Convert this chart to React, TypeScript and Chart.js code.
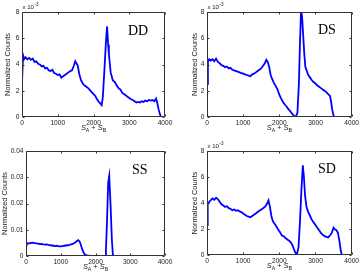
import { useEffect, useRef } from 'react';
import { Chart, registerables } from 'chart.js';

Chart.register(...registerables);

// ---------- data ----------
const X_TICKS = [0, 1000, 2000, 3000, 4000];
const X_TICK_LABELS = ['0', '1000', '2000', '3000', '4000'];
const Y_TICKS_E3 = [0, 2, 4, 6, 8];
const Y_TICK_LABELS_E3 = ['0', '2', '4', '6', '8'];
const Y_TICKS_SS = [0, 0.01, 0.02, 0.03, 0.04];
const Y_TICK_LABELS_SS = ['0', '0.01', '0.02', '0.03', '0.04'];

// DD (values in units of 1e-3)
const ddX = [0, 30, 60, 100, 150, 200, 250, 300, 350, 400, 450, 500, 550, 600, 650, 700, 750, 800, 850, 900, 950, 1000, 1050, 1100, 1150, 1200, 1250, 1300, 1350, 1400, 1450, 1490, 1520, 1560, 1600, 1650, 1700, 1750, 1800, 1850, 1900, 1950, 2000, 2050, 2100, 2150, 2200, 2230, 2260, 2310, 2350, 2380, 2410, 2430, 2480, 2540, 2600, 2650, 2700, 2750, 2800, 2850, 2900, 2950, 3000, 3050, 3100, 3150, 3200, 3250, 3300, 3350, 3400, 3450, 3500, 3550, 3600, 3650, 3700, 3750, 3780, 3820, 3860, 3890];
const ddY = [2.6, 4.7, 4.4, 4.55, 4.4, 4.5, 4.35, 4.45, 4.2, 4.25, 4.05, 4.0, 3.85, 3.9, 3.7, 3.75, 3.55, 3.5, 3.6, 3.35, 3.3, 3.2, 3.25, 3.0, 3.1, 3.2, 3.3, 3.4, 3.5, 3.55, 3.9, 4.25, 4.1, 3.9, 3.3, 2.8, 2.55, 2.4, 2.3, 2.2, 2.05, 1.9, 1.75, 1.6, 1.35, 1.15, 1.0, 0.9, 1.5, 3.8, 5.8, 6.9, 5.5, 4.8, 3.4, 2.8, 2.65, 2.4, 2.2, 2.1, 1.85, 1.75, 1.65, 1.55, 1.45, 1.35, 1.3, 1.2, 1.1, 1.15, 1.1, 1.2, 1.15, 1.25, 1.2, 1.3, 1.25, 1.3, 1.2, 1.4, 1.1, 0.6, 0.2, 0];

// DS (values in units of 1e-3)
const dsX = [0, 25, 60, 100, 150, 200, 250, 300, 350, 400, 450, 500, 550, 600, 650, 700, 750, 800, 850, 900, 950, 1000, 1050, 1100, 1150, 1200, 1250, 1300, 1350, 1400, 1450, 1500, 1550, 1600, 1640, 1680, 1720, 1760, 1800, 1850, 1900, 1950, 2000, 2050, 2100, 2150, 2200, 2250, 2300, 2350, 2400, 2450, 2500, 2540, 2570, 2600, 2630, 2660, 2690, 2720, 2760, 2800, 2850, 2900, 2950, 3000, 3050, 3100, 3150, 3200, 3250, 3300, 3350, 3400, 3430, 3460, 3490, 3515];
const dsY = [2.5, 4.2, 4.4, 4.3, 4.4, 4.25, 4.45, 4.2, 4.1, 3.95, 3.9, 3.8, 3.85, 3.7, 3.75, 3.6, 3.55, 3.5, 3.45, 3.4, 3.35, 3.3, 3.25, 3.2, 3.15, 3.1, 3.25, 3.3, 3.4, 3.5, 3.6, 3.7, 3.9, 4.1, 4.35, 4.2, 3.8, 3.2, 2.9, 2.6, 2.35, 2.1, 1.7, 1.4, 1.15, 0.95, 0.8, 0.6, 0.45, 0.25, 0.1, 0, 0.3, 2.5, 5.5, 8.2, 7.6, 6.2, 4.8, 3.8, 3.5, 3.2, 3.0, 2.8, 2.65, 2.55, 2.4, 2.3, 2.2, 2.1, 2.0, 1.9, 1.75, 1.6, 1.2, 0.6, 0.2, 0];

// SS (actual values)
const ssX = [0, 30, 100, 150, 200, 250, 300, 350, 400, 450, 500, 550, 600, 650, 700, 750, 800, 850, 900, 950, 1000, 1050, 1100, 1150, 1200, 1250, 1300, 1350, 1400, 1450, 1500, 1540, 1580, 1620, 1660, 1700, 1750, 1800, 1850, 1900, 2000, 2100, 2200, 2280, 2300, 2330, 2365, 2395, 2435, 2470, 2500, 2530];
const ssY = [0.003, 0.0049, 0.0048, 0.005, 0.0051, 0.0049, 0.0048, 0.0047, 0.0045, 0.0046, 0.0044, 0.0043, 0.0044, 0.0042, 0.0041, 0.004, 0.0039, 0.0038, 0.0039, 0.0037, 0.0037, 0.0038, 0.0039, 0.004, 0.0041, 0.0042, 0.0044, 0.0046, 0.005, 0.0055, 0.006, 0.0056, 0.0042, 0.0025, 0.0012, 0.0005, 0.0002, 0.0001, 0, 0, 0, 0, 0, 0, 0.002, 0.0128, 0.028, 0.0305, 0.019, 0.0065, 0.0005, 0];

// SD (values in units of 1e-3)
const sdX = [0, 20, 60, 100, 150, 200, 250, 300, 350, 400, 450, 500, 550, 600, 650, 700, 750, 800, 850, 900, 950, 1000, 1050, 1100, 1150, 1200, 1250, 1300, 1350, 1400, 1450, 1500, 1550, 1600, 1650, 1700, 1740, 1780, 1820, 1870, 1920, 1970, 2020, 2070, 2120, 2170, 2220, 2270, 2320, 2370, 2410, 2450, 2490, 2530, 2570, 2610, 2650, 2680, 2710, 2750, 2800, 2850, 2900, 2950, 3000, 3050, 3100, 3150, 3200, 3250, 3300, 3350, 3400, 3450, 3500, 3540, 3580, 3620, 3660, 3700, 3730, 3800, 3900];
const sdY = [2.3, 3.9, 4.1, 4.2, 4.35, 4.25, 4.4, 4.3, 4.1, 3.9, 3.8, 3.7, 3.75, 3.6, 3.55, 3.45, 3.5, 3.4, 3.45, 3.35, 3.3, 3.2, 3.1, 3.0, 2.95, 2.9, 3.0, 3.1, 3.2, 3.3, 3.4, 3.5, 3.6, 3.7, 3.9, 4.2, 3.7, 3.0, 2.6, 2.4, 2.2, 1.95, 1.75, 1.5, 1.45, 1.3, 1.2, 1.1, 0.95, 0.7, 0.4, 0.15, 0.1, 0.6, 2.5, 5.0, 6.9, 6.0, 4.6, 3.7, 3.3, 3.0, 2.7, 2.5, 2.3, 2.1, 1.9, 1.7, 1.55, 1.45, 1.4, 1.35, 1.5, 1.7, 2.1, 1.95, 1.9, 1.7, 1.1, 0.3, 0, 0, 0];

// ---------- layout / style ----------
const SANS = "'Liberation Sans', Arial, sans-serif";
const SERIF = "'Liberation Serif', 'Times New Roman', serif";
const TEXT = '#1a1a1a';
const BOX = '#333333';
const LINE = '#0000ff';

type Panel = {
  label: string;
  xs: number[];
  ys: number[];
  yTicks: number[];
  yTickLabels: string[];
  yMax: number;
  exp: boolean;
  left: number;
  top: number;
  w: number;
  h: number;
  area: { l: number; t: number; r: number; b: number };
  titleX: number;
  labelDX: number;
  labelDY: number;
};

const PANELS: Panel[] = [
  { label: 'DD', xs: ddX, ys: ddY, yTicks: Y_TICKS_E3, yTickLabels: Y_TICK_LABELS_E3, yMax: 8, exp: true,
    left: 0, top: 0, w: 180, h: 138, area: { l: 22, t: 12, r: 165, b: 117 }, titleX: 7.5, labelDX: 106, labelDY: 23 },
  { label: 'DS', xs: dsX, ys: dsY, yTicks: Y_TICKS_E3, yTickLabels: Y_TICK_LABELS_E3, yMax: 8, exp: true,
    left: 180, top: 0, w: 181, h: 138, area: { l: 27, t: 12, r: 172, b: 117 }, titleX: 15, labelDX: 111, labelDY: 22 },
  { label: 'SS', xs: ssX, ys: ssY, yTicks: Y_TICKS_SS, yTickLabels: Y_TICK_LABELS_SS, yMax: 0.04, exp: false,
    left: 0, top: 138, w: 180, h: 139, area: { l: 26, t: 13, r: 165, b: 118 }, titleX: 4.5, labelDX: 106, labelDY: 23 },
  { label: 'SD', xs: sdX, ys: sdY, yTicks: Y_TICKS_E3, yTickLabels: Y_TICK_LABELS_E3, yMax: 8, exp: true,
    left: 180, top: 138, w: 181, h: 139, area: { l: 27, t: 13, r: 172, b: 117 }, titleX: 15, labelDX: 111, labelDY: 22 },
];

const framePlugin = {
  id: 'frame',
  afterDraw(chart: any, _args: any, opts: any) {
    const { ctx, chartArea } = chart;
    const { left, top, right, bottom } = chartArea;
    const xs = chart.scales.x;
    const ys = chart.scales.y;
    ctx.save();
    // box
    ctx.strokeStyle = BOX;
    ctx.lineWidth = 1;
    const L = Math.round(left) + 0.5;
    const T = Math.round(top) + 0.5;
    const R = Math.round(right) - 0.5;
    const B = Math.round(bottom) - 0.5;
    ctx.beginPath();
    ctx.rect(L, T, R - L, B - T);
    // inward ticks
    const tl = 2;
    xs.ticks.forEach((t: any) => {
      const px = Math.round(xs.getPixelForValue(t.value)) + 0.5;
      ctx.moveTo(px, B);
      ctx.lineTo(px, B - tl);
      ctx.moveTo(px, T);
      ctx.lineTo(px, T + tl);
    });
    ys.ticks.forEach((t: any) => {
      const py = Math.round(ys.getPixelForValue(t.value)) + 0.5;
      ctx.moveTo(L, py);
      ctx.lineTo(L + tl, py);
      ctx.moveTo(R, py);
      ctx.lineTo(R - tl, py);
    });
    ctx.stroke();

    ctx.fillStyle = TEXT;
    // exponent
    if (opts.exp) {
      ctx.font = `6px ${SANS}`;
      ctx.textAlign = 'left';
      ctx.textBaseline = 'alphabetic';
      const base = top - 3;
      const x0 = left + 0.5;
      ctx.fillText('x 10', x0, base);
      const w = ctx.measureText('x 10').width;
      ctx.font = `4.6px ${SANS}`;
      ctx.fillText('-3', x0 + w + 0.6, base - 3.5);
    }
    // y title
    ctx.save();
    ctx.font = `7.4px ${SANS}`;
    ctx.translate(opts.titleX, (top + bottom) / 2);
    ctx.rotate(-Math.PI / 2);
    ctx.textAlign = 'center';
    ctx.textBaseline = 'middle';
    ctx.fillText('Normalized Counts', 0, 0);
    ctx.restore();
    // x title with subscripts
    const segs = [
      { t: 'S', f: `italic 7.4px ${SANS}`, dy: 0 },
      { t: 'A', f: `5.2px ${SANS}`, dy: 2 },
      { t: ' + ', f: `7.4px ${SANS}`, dy: 0 },
      { t: 'S', f: `italic 7.4px ${SANS}`, dy: 0 },
      { t: 'B', f: `5.2px ${SANS}`, dy: 2 },
    ];
    let total = 0;
    const widths = segs.map((s) => {
      ctx.font = s.f;
      const w = ctx.measureText(s.t).width;
      total += w;
      return w;
    });
    let cx = (left + right) / 2 - total / 2;
    const by = bottom + 13;
    ctx.textAlign = 'left';
    ctx.textBaseline = 'alphabetic';
    segs.forEach((s, i) => {
      ctx.font = s.f;
      ctx.fillText(s.t, cx, by + s.dy);
      cx += widths[i];
    });
    // panel label
    ctx.font = `14px ${SERIF}`;
    ctx.fillStyle = '#000';
    ctx.fillText(opts.label, left + opts.labelDX, top + opts.labelDY);
    ctx.restore();
  },
};

function PanelChart({ p }: { p: Panel }) {
  const ref = useRef<HTMLCanvasElement>(null);
  useEffect(() => {
    const data = p.xs.map((x, i) => ({ x, y: p.ys[i] }));
    const tickFont = { family: SANS, size: 6.6 };
    const chart = new Chart(ref.current as HTMLCanvasElement, {
      type: 'line',
      data: {
        datasets: [
          {
            data,
            borderColor: LINE,
            borderWidth: 1.8,
            pointRadius: 0,
            tension: 0,
            fill: false,
          },
        ],
      },
      options: {
        animation: false,
        responsive: false,
        devicePixelRatio: 1,
        layout: { padding: { top: p.area.t, right: p.w - p.area.r, left: 0, bottom: 0 } },
        plugins: {
          legend: { display: false },
          tooltip: { enabled: false },
          frame: { exp: p.exp, titleX: p.titleX, label: p.label, labelDX: p.labelDX, labelDY: p.labelDY },
        } as any,
        scales: {
          x: {
            type: 'linear',
            min: 0,
            max: 4000,
            afterBuildTicks: (s: any) => {
              s.ticks = X_TICKS.map((v) => ({ value: v }));
            },
            afterFit: (s: any) => {
              s.height = p.h - p.area.b;
            },
            ticks: {
              font: tickFont,
              color: TEXT,
              padding: 2,
              maxRotation: 0,
              autoSkip: false,
              callback: (v: any) => X_TICK_LABELS[X_TICKS.indexOf(Number(v))] ?? '',
            },
            grid: { display: false, drawTicks: false },
            border: { display: false },
          },
          y: {
            type: 'linear',
            min: 0,
            max: p.yMax,
            afterBuildTicks: (s: any) => {
              s.ticks = p.yTicks.map((v) => ({ value: v }));
            },
            afterFit: (s: any) => {
              s.width = p.area.l;
            },
            ticks: {
              font: tickFont,
              color: TEXT,
              padding: 2.5,
              autoSkip: false,
              callback: (v: any) => {
                const i = p.yTicks.findIndex((t) => Math.abs(t - Number(v)) < 1e-9);
                return i >= 0 ? p.yTickLabels[i] : '';
              },
            },
            grid: { display: false, drawTicks: false },
            border: { display: false },
          },
        },
      },
      plugins: [framePlugin],
    });
    return () => chart.destroy();
  }, [p]);
  return (
    <canvas
      ref={ref}
      width={p.w}
      height={p.h}
      style={{ position: 'absolute', left: p.left, top: p.top, width: p.w, height: p.h, display: 'block' }}
    />
  );
}

export default function App() {
  return (
    <div style={{ position: 'fixed', left: 0, top: 0, width: 361, height: 277, background: '#fff', overflow: 'hidden' }}>
      {PANELS.map((p) => (
        <PanelChart key={p.label} p={p} />
      ))}
    </div>
  );
}
